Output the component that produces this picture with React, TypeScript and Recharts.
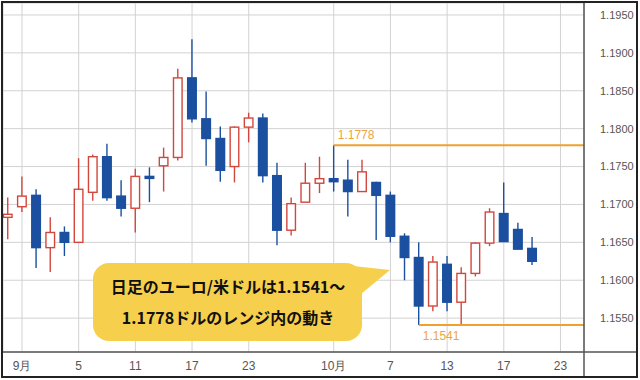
import { Bar, CartesianGrid, ComposedChart, ReferenceLine, XAxis, YAxis } from "recharts"

// trading sessions shown on the axis (Aug 29 .. Oct 24)
const sessions = [
  "8/29",
  "9/1", "9/2", "9/3", "9/4", "9/5",
  "9/8", "9/9", "9/10", "9/11", "9/12",
  "9/15", "9/16", "9/17", "9/18", "9/19",
  "9/22", "9/23", "9/24", "9/25", "9/26",
  "9/29", "9/30",
  "10/1", "10/2", "10/3",
  "10/6", "10/7", "10/8", "10/9", "10/10",
  "10/13", "10/14", "10/15", "10/16", "10/17",
  "10/20", "10/21", "10/22", "10/23", "10/24",
]

const candleDates = sessions.slice(0, 38)
const opens = [
  1.1683, 1.1697, 1.1712, 1.1643, 1.1663, 1.165, 1.1716, 1.1763, 1.1711, 1.1695,
  1.1737, 1.1751, 1.1762, 1.1867, 1.1813, 1.1787, 1.175, 1.1802, 1.1814, 1.1738,
  1.1666, 1.1703, 1.1728, 1.1734, 1.1732, 1.1717, 1.1729, 1.1712, 1.1658, 1.163,
  1.1566, 1.1621, 1.1571, 1.1609, 1.1649, 1.1688, 1.1667, 1.1642,
]
const highs = [
  1.1709, 1.1737, 1.172, 1.1683, 1.1671, 1.1761, 1.1766, 1.178, 1.1732, 1.1747,
  1.1749, 1.1775, 1.1879, 1.1918, 1.1849, 1.1803, 1.1803, 1.1821, 1.182, 1.1755,
  1.1709, 1.1755, 1.1763, 1.1778, 1.1759, 1.1759, 1.173, 1.1717, 1.1662, 1.165,
  1.1632, 1.1632, 1.1617, 1.165, 1.1695, 1.1729, 1.1676, 1.1657,
]
const lows = [
  1.1654, 1.169, 1.1616, 1.1611, 1.1632, 1.165, 1.1705, 1.1705, 1.1684, 1.1663,
  1.1703, 1.1717, 1.1758, 1.1808, 1.1751, 1.173, 1.1729, 1.1782, 1.1729, 1.1646,
  1.1659, 1.1703, 1.1715, 1.1717, 1.1684, 1.1717, 1.1653, 1.165, 1.16, 1.1541,
  1.1559, 1.1559, 1.1541, 1.1605, 1.1645, 1.1651, 1.1641, 1.162,
]
const closes = [
  1.1687, 1.1711, 1.1643, 1.1663, 1.165, 1.172, 1.1763, 1.1709, 1.1695, 1.1737,
  1.1735, 1.1762, 1.1867, 1.1813, 1.1787, 1.1745, 1.1802, 1.1814, 1.1738, 1.1666,
  1.1701, 1.1728, 1.1734, 1.173, 1.1717, 1.1743, 1.1712, 1.1658, 1.163, 1.1566,
  1.1624, 1.1571, 1.1609, 1.1649, 1.169, 1.1651, 1.1641, 1.1625,
]

const tickDates = ["9/1", "9/5", "9/11", "9/17", "9/23", "10/1", "10/7", "10/13", "10/17", "10/23"]
const tickLabels = ["9月", "5", "11", "17", "23", "10月", "7", "13", "17", "23"]
const priceTicks = [1.155, 1.16, 1.165, 1.17, 1.175, 1.18, 1.185, 1.19, 1.195]

const rangeHigh = 1.1778
const rangeHighFrom = "10/1"
const rangeLow = 1.1541
const rangeLowFrom = "10/9"

const xMin = -0.34
const xMax = 40.66
const yMin = 1.15053
const yMax = 1.19658

const UP = "#d2473c"
const DOWN = "#1b4f9f"
const ORANGE = "#f0a02c"

const data = candleDates.map((d, k) => ({
  i: sessions.indexOf(d),
  open: opens[k],
  high: highs[k],
  low: lows[k],
  close: closes[k],
  range: [lows[k], highs[k]],
}))

const xTicks = tickDates.map((d) => sessions.indexOf(d))

function Candle(props: any) {
  const { x, y, width, height, payload } = props
  if (!payload) return null
  const top = Math.min(y, y + height)
  const h = Math.abs(height)
  const span = payload.high - payload.low
  const py = (v: number) => top + ((payload.high - v) / span) * h
  const up = payload.close >= payload.open
  const color = up ? UP : DOWN
  const cx = x + width / 2
  const bTop = py(Math.max(payload.open, payload.close))
  let bBot = py(Math.min(payload.open, payload.close))
  if (bBot - bTop < 2) bBot = bTop + 2
  return (
    <g>
      <line x1={cx} x2={cx} y1={top} y2={top + h} stroke={color} strokeWidth={1.4} />
      <rect
        x={x + 0.7}
        y={bTop}
        width={width - 1.4}
        height={bBot - bTop}
        fill={up ? "#fff" : color}
        stroke={color}
        strokeWidth={1.4}
      />
    </g>
  )
}

function LevelLabel(props: any) {
  const { viewBox, text, below } = props
  if (!viewBox) return null
  return (
    <text
      x={viewBox.x + 4}
      y={below ? viewBox.y + 15 : viewBox.y - 6}
      fill="#eca540"
      fontSize={12}
      fontFamily="'Liberation Sans', Arial, sans-serif"
    >
      {text}
    </text>
  )
}

export default function App() {
  return (
    <div style={{ position: "absolute", left: 0, top: 0, width: 640, height: 380, background: "#fff" }}>
      <ComposedChart
        width={640}
        height={380}
        data={data}
        margin={{ top: 3, right: 3, bottom: 3, left: 3 }}
      >
        <CartesianGrid stroke="#d2d2d2" strokeWidth={1} />
        <XAxis
          dataKey="i"
          type="number"
          domain={[xMin, xMax]}
          allowDataOverflow
          ticks={xTicks}
          tickFormatter={(v: number) => tickLabels[xTicks.indexOf(v)] ?? ""}
          height={25}
          axisLine={{ stroke: "#555", strokeWidth: 1.5 }}
          tickLine={false}
          tickSize={4}
          tickMargin={5}
          tick={{ fill: "#555", fontSize: 12, fontFamily: "'Liberation Sans Narrow', 'Liberation Sans', sans-serif" }}
        />
        <YAxis
          orientation="right"
          type="number"
          domain={[yMin, yMax]}
          allowDataOverflow
          ticks={priceTicks}
          tickFormatter={(v: number) => v.toFixed(4)}
          width={53}
          axisLine={{ stroke: "#555", strokeWidth: 1.5 }}
          tickLine={false}
          tickSize={0}
          tickMargin={16}
          tick={{ fill: "#555", fontSize: 11, fontFamily: "'Liberation Sans Narrow', 'Liberation Sans', sans-serif" }}
        />
        <Bar dataKey="range" barSize={10} isAnimationActive={false} shape={(p: any) => <Candle {...p} />} />
        <ReferenceLine
          segment={[
            { x: sessions.indexOf(rangeHighFrom), y: rangeHigh },
            { x: xMax, y: rangeHigh },
          ]}
          stroke={ORANGE}
          strokeWidth={2}
          ifOverflow="visible"
          label={(p: any) => <LevelLabel {...p} text={rangeHigh.toFixed(4)} />}
        />
        <ReferenceLine
          segment={[
            { x: sessions.indexOf(rangeLowFrom), y: rangeLow },
            { x: xMax, y: rangeLow },
          ]}
          stroke={ORANGE}
          strokeWidth={2}
          ifOverflow="visible"
          label={(p: any) => <LevelLabel {...p} text={rangeLow.toFixed(4)} below />}
        />
      </ComposedChart>
      <svg
        width={640}
        height={380}
        style={{ position: "absolute", left: 0, top: 0, pointerEvents: "none" }}
      >
        <line x1={584} x2={638} y1={352} y2={352} stroke="#555" strokeWidth={1.5} />
        <line x1={584} x2={584} y1={352} y2={377} stroke="#555" strokeWidth={1.5} />
        <rect x={93} y={263} width={269} height={78} rx={16} fill="#f6d04d" />
        <polygon points="335,264 390,270 361,294" fill="#f6d04d" />
        <g fontFamily="'Noto Sans CJK JP', sans-serif" fontWeight="bold" fontSize={16} fill="#111" textAnchor="middle">
          <text x={228} y={293}>日足のユーロ/米ドルは1.1541～</text>
          <text x={228} y={324}>1.1778ドルのレンジ内の動き</text>
        </g>
        <rect x={2} y={2} width={635} height={375} fill="none" stroke="#222" strokeWidth={2} />
      </svg>
    </div>
  )
}
